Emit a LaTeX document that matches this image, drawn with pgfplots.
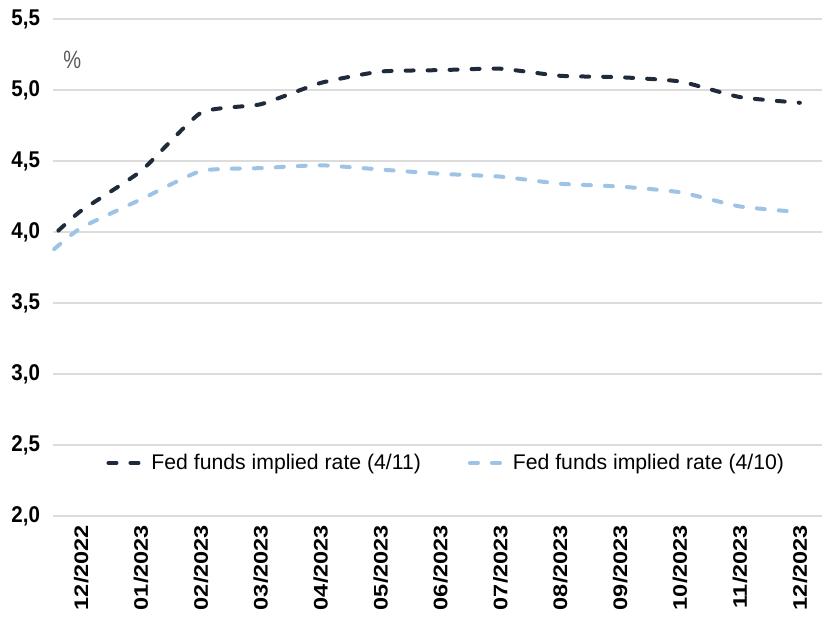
\documentclass[border=0pt]{standalone}
\usepackage{fontspec}
\setmainfont{Liberation Sans}
\newfontfamily\yfont{Liberation Sans}[FakeStretch=0.9]
\newfontfamily\xfont{Liberation Sans}[FakeStretch=1.2]
\newfontfamily\pfont{Liberation Sans}[FakeStretch=0.8]
\usepackage{pgfplots}
\pgfplotsset{compat=1.18}
\definecolor{darkline}{HTML}{1F2A3A}
\definecolor{lightline}{HTML}{9DC3E6}
\definecolor{gridc}{HTML}{DCDCDC}
\begin{document}
\begin{tikzpicture}
\useasboundingbox (-26.5pt,-53pt) rectangle (384.5pt,258pt);
\begin{axis}[
  at={(0,0)}, anchor=south west,
  scale only axis, width=384.5pt, height=248.5pt,
  xmin=-0.47, xmax=12.37, ymin=2, ymax=5.5,
  axis line style={draw=none},
  tick style={draw=none},
  ytick={2,2.5,3,3.5,4,4.5,5,5.5},
  yticklabel style={/pgf/number format/.cd, fixed, fixed zerofill, precision=1, use comma, /tikz/.cd, font=\yfont\bfseries\fontsize{11.4}{13}\selectfont, xshift=-3pt},
  /pgf/number format/assume math mode=true,
  ymajorgrids, major grid style={gridc, line width=0.9pt},
  xtick={0,1,2,3,4,5,6,7,8,9,10,11,12},
  xticklabels={12/2022,01/2023,02/2023,03/2023,04/2023,05/2023,06/2023,07/2023,08/2023,09/2023,10/2023,11/2023,12/2023},
  xticklabel style={rotate=90, anchor=east, font=\xfont\bfseries\fontsize{9.8}{11}\selectfont, xshift=-1pt},
  legend style={at={(0.512,0.107)}, anchor=center, draw=none, fill=none, font=\fontsize{10.6}{12}\selectfont, legend columns=2, nodes={inner xsep=1.5pt}, /tikz/every even column/.append style={column sep=22pt}},
  legend image code/.code={\draw[#1] (0pt,0pt) -- (19pt,0pt);},
  clip=false,
]
\addplot[darkline, line width=2pt, line cap=round, dash pattern=on 4pt off 7pt, smooth, tension=0.3] coordinates {
(-0.38,4.01) (0,4.15) (1,4.43) (2,4.84) (3,4.90) (4,5.05) (5,5.13) (6,5.14) (7,5.15) (8,5.10) (9,5.09) (10,5.06) (11,4.95) (12,4.91)};
\addlegendentry{Fed funds implied rate (4/11)}
\addplot[lightline, line width=2pt, line cap=round, dash pattern=on 4pt off 7pt, smooth, tension=0.3] coordinates {
(-0.45,3.88) (0,4.03) (1,4.23) (2,4.43) (3,4.45) (4,4.47) (5,4.44) (6,4.41) (7,4.39) (8,4.34) (9,4.32) (10,4.28) (11,4.18) (12,4.14)};
\addlegendentry{Fed funds implied rate (4/10)}
\node[text=black!65, font=\pfont\fontsize{12.5}{14}\selectfont] at (rel axis cs:0.025,0.917) {\%};
\end{axis}
\end{tikzpicture}
\end{document}
